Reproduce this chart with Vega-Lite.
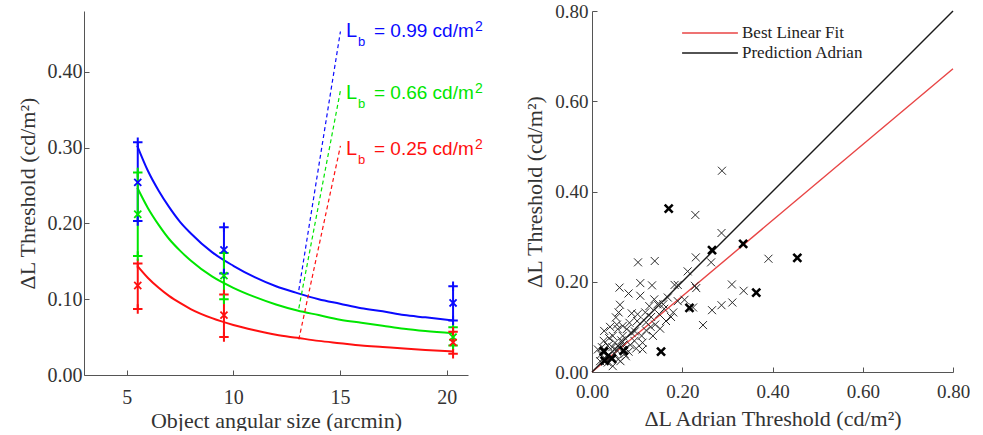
{
  "$schema": "https://vega.github.io/schema/vega-lite/v6.json",
  "autosize": {"type": "pad"},
  "padding": {"left": 16, "top": 2, "right": 0, "bottom": 0},
  "background": "white",
  "spacing": 124,
  "bounds": "flush",
  "config": {
    "view": {"stroke": null},
    "axis": {
      "grid": false,
      "labelFlush": false,
      "labelOverlap": false,
      "domainColor": "#555555",
      "domainWidth": 1,
      "tickColor": "#555555",
      "tickSize": -5,
      "labelFont": "Liberation Serif",
      "titleFont": "Liberation Serif",
      "labelColor": "#333333",
      "titleColor": "#333333",
      "labelFontSize": 20,
      "titleFontSize": 22,
      "titleFontWeight": "normal"
    }
  },
  "resolve": {"scale": {"color": "independent"}, "legend": {"color": "independent"}},
  "datasets": {
    "fits": [
      {"Lb": "0.99", "size": 5.5, "thr": 0.302}, {"Lb": "0.99", "size": 6, "thr": 0.269}, {"Lb": "0.99", "size": 6.5, "thr": 0.243},
      {"Lb": "0.99", "size": 7, "thr": 0.221}, {"Lb": "0.99", "size": 7.5, "thr": 0.202}, {"Lb": "0.99", "size": 8, "thr": 0.187},
      {"Lb": "0.99", "size": 9, "thr": 0.162}, {"Lb": "0.99", "size": 10, "thr": 0.144}, {"Lb": "0.99", "size": 11, "thr": 0.129},
      {"Lb": "0.99", "size": 12, "thr": 0.117}, {"Lb": "0.99", "size": 13, "thr": 0.108}, {"Lb": "0.99", "size": 14, "thr": 0.100},
      {"Lb": "0.99", "size": 15, "thr": 0.094}, {"Lb": "0.99", "size": 16, "thr": 0.088}, {"Lb": "0.99", "size": 17, "thr": 0.084},
      {"Lb": "0.99", "size": 18, "thr": 0.079}, {"Lb": "0.99", "size": 19, "thr": 0.076}, {"Lb": "0.99", "size": 20.3, "thr": 0.072},
      {"Lb": "0.66", "size": 5.5, "thr": 0.247}, {"Lb": "0.66", "size": 6, "thr": 0.220}, {"Lb": "0.66", "size": 6.5, "thr": 0.198},
      {"Lb": "0.66", "size": 7, "thr": 0.179}, {"Lb": "0.66", "size": 7.5, "thr": 0.164}, {"Lb": "0.66", "size": 8, "thr": 0.151},
      {"Lb": "0.66", "size": 9, "thr": 0.130}, {"Lb": "0.66", "size": 10, "thr": 0.115}, {"Lb": "0.66", "size": 11, "thr": 0.103},
      {"Lb": "0.66", "size": 12, "thr": 0.093}, {"Lb": "0.66", "size": 13, "thr": 0.085}, {"Lb": "0.66", "size": 14, "thr": 0.079},
      {"Lb": "0.66", "size": 15, "thr": 0.073}, {"Lb": "0.66", "size": 16, "thr": 0.069}, {"Lb": "0.66", "size": 17, "thr": 0.065},
      {"Lb": "0.66", "size": 18, "thr": 0.061}, {"Lb": "0.66", "size": 19, "thr": 0.058}, {"Lb": "0.66", "size": 20.3, "thr": 0.055},
      {"Lb": "0.25", "size": 5.5, "thr": 0.144}, {"Lb": "0.25", "size": 6, "thr": 0.128}, {"Lb": "0.25", "size": 6.5, "thr": 0.115},
      {"Lb": "0.25", "size": 7, "thr": 0.104}, {"Lb": "0.25", "size": 7.5, "thr": 0.095}, {"Lb": "0.25", "size": 8, "thr": 0.087},
      {"Lb": "0.25", "size": 9, "thr": 0.075}, {"Lb": "0.25", "size": 10, "thr": 0.066}, {"Lb": "0.25", "size": 11, "thr": 0.059},
      {"Lb": "0.25", "size": 12, "thr": 0.053}, {"Lb": "0.25", "size": 13, "thr": 0.049}, {"Lb": "0.25", "size": 14, "thr": 0.045},
      {"Lb": "0.25", "size": 15, "thr": 0.042}, {"Lb": "0.25", "size": 16, "thr": 0.039}, {"Lb": "0.25", "size": 17, "thr": 0.037},
      {"Lb": "0.25", "size": 18, "thr": 0.035}, {"Lb": "0.25", "size": 19, "thr": 0.033}, {"Lb": "0.25", "size": 20.3, "thr": 0.031}
    ],
    "measured": [
      {"Lb": "0.99", "size": 5.52, "lo": 0.203, "mean": 0.254, "hi": 0.307},
      {"Lb": "0.99", "size": 9.56, "lo": 0.134, "mean": 0.165, "hi": 0.195},
      {"Lb": "0.99", "size": 20.3, "lo": 0.072, "mean": 0.095, "hi": 0.117},
      {"Lb": "0.66", "size": 5.52, "lo": 0.157, "mean": 0.212, "hi": 0.267},
      {"Lb": "0.66", "size": 9.56, "lo": 0.100, "mean": 0.131, "hi": 0.161},
      {"Lb": "0.66", "size": 20.3, "lo": 0.039, "mean": 0.050, "hi": 0.063},
      {"Lb": "0.25", "size": 5.52, "lo": 0.087, "mean": 0.118, "hi": 0.147},
      {"Lb": "0.25", "size": 9.56, "lo": 0.050, "mean": 0.079, "hi": 0.106},
      {"Lb": "0.25", "size": 20.3, "lo": 0.028, "mean": 0.043, "hi": 0.057}
    ],
    "leaders": [
      {"Lb": "0.99", "x1": 13.07, "y1": 0.112, "x2": 15.02, "y2": 0.453, "unit": "= 0.99 cd/m", "lx": 15.28, "ly": 0.446},
      {"Lb": "0.66", "x1": 13.07, "y1": 0.088, "x2": 15.02, "y2": 0.375, "unit": "= 0.66 cd/m", "lx": 15.28, "ly": 0.364},
      {"Lb": "0.25", "x1": 13.07, "y1": 0.047, "x2": 15.02, "y2": 0.302, "unit": "= 0.25 cd/m", "lx": 15.28, "ly": 0.2895}
    ],
    "lines": [
      {"series": "Best Linear Fit", "adrian": 0, "measured": 0},
      {"series": "Best Linear Fit", "adrian": 0.8, "measured": 0.672},
      {"series": "Prediction Adrian", "adrian": 0, "measured": 0},
      {"series": "Prediction Adrian", "adrian": 0.8, "measured": 0.8}
    ],
    "scatter": [
      {"adrian": 0.288, "measured": 0.446, "set": "A"}, {"adrian": 0.229, "measured": 0.348, "set": "A"},
      {"adrian": 0.287, "measured": 0.308, "set": "A"}, {"adrian": 0.230, "measured": 0.254, "set": "A"},
      {"adrian": 0.102, "measured": 0.243, "set": "A"}, {"adrian": 0.139, "measured": 0.246, "set": "A"},
      {"adrian": 0.264, "measured": 0.243, "set": "A"}, {"adrian": 0.391, "measured": 0.251, "set": "A"},
      {"adrian": 0.212, "measured": 0.223, "set": "A"}, {"adrian": 0.228, "measured": 0.191, "set": "A"},
      {"adrian": 0.183, "measured": 0.193, "set": "A"}, {"adrian": 0.107, "measured": 0.197, "set": "A"},
      {"adrian": 0.133, "measured": 0.192, "set": "A"}, {"adrian": 0.061, "measured": 0.187, "set": "A"},
      {"adrian": 0.081, "measured": 0.174, "set": "A"}, {"adrian": 0.107, "measured": 0.169, "set": "A"},
      {"adrian": 0.310, "measured": 0.194, "set": "A"}, {"adrian": 0.336, "measured": 0.180, "set": "A"},
      {"adrian": 0.311, "measured": 0.154, "set": "A"}, {"adrian": 0.287, "measured": 0.148, "set": "A"},
      {"adrian": 0.266, "measured": 0.137, "set": "A"}, {"adrian": 0.246, "measured": 0.104, "set": "A"},
      {"adrian": 0.231, "measured": 0.186, "set": "A"}, {"adrian": 0.190, "measured": 0.157, "set": "A"},
      {"adrian": 0.168, "measured": 0.165, "set": "A"}, {"adrian": 0.158, "measured": 0.150, "set": "A"},
      {"adrian": 0.138, "measured": 0.161, "set": "A"}, {"adrian": 0.127, "measured": 0.146, "set": "A"},
      {"adrian": 0.118, "measured": 0.132, "set": "A"}, {"adrian": 0.101, "measured": 0.128, "set": "A"},
      {"adrian": 0.062, "measured": 0.149, "set": "A"}, {"adrian": 0.059, "measured": 0.132, "set": "A"},
      {"adrian": 0.083, "measured": 0.109, "set": "A"}, {"adrian": 0.100, "measured": 0.113, "set": "A"},
      {"adrian": 0.131, "measured": 0.122, "set": "A"}, {"adrian": 0.149, "measured": 0.128, "set": "A"},
      {"adrian": 0.175, "measured": 0.122, "set": "A"}, {"adrian": 0.164, "measured": 0.113, "set": "A"},
      {"adrian": 0.180, "measured": 0.132, "set": "A"}, {"adrian": 0.151, "measured": 0.096, "set": "A"},
      {"adrian": 0.135, "measured": 0.080, "set": "A"}, {"adrian": 0.112, "measured": 0.065, "set": "A"},
      {"adrian": 0.094, "measured": 0.069, "set": "A"}, {"adrian": 0.098, "measured": 0.052, "set": "A"},
      {"adrian": 0.112, "measured": 0.050, "set": "A"}, {"adrian": 0.077, "measured": 0.095, "set": "A"},
      {"adrian": 0.057, "measured": 0.095, "set": "A"}, {"adrian": 0.046, "measured": 0.080, "set": "A"},
      {"adrian": 0.068, "measured": 0.080, "set": "A"}, {"adrian": 0.027, "measured": 0.091, "set": "A"},
      {"adrian": 0.026, "measured": 0.069, "set": "A"}, {"adrian": 0.035, "measured": 0.058, "set": "A"},
      {"adrian": 0.051, "measured": 0.065, "set": "A"}, {"adrian": 0.070, "measured": 0.061, "set": "A"},
      {"adrian": 0.081, "measured": 0.045, "set": "A"}, {"adrian": 0.055, "measured": 0.048, "set": "A"},
      {"adrian": 0.013, "measured": 0.050, "set": "A"}, {"adrian": 0.020, "measured": 0.039, "set": "A"},
      {"adrian": 0.042, "measured": 0.033, "set": "A"}, {"adrian": 0.035, "measured": 0.021, "set": "A"},
      {"adrian": 0.046, "measured": 0.013, "set": "A"}, {"adrian": 0.018, "measured": 0.024, "set": "A"},
      {"adrian": 0.063, "measured": 0.024, "set": "A"}, {"adrian": 0.224, "measured": 0.143, "set": "A"},
      {"adrian": 0.053, "measured": 0.121, "set": "A"}, {"adrian": 0.068, "measured": 0.102, "set": "A"},
      {"adrian": 0.088, "measured": 0.086, "set": "A"}, {"adrian": 0.120, "measured": 0.092, "set": "A"},
      {"adrian": 0.040, "measured": 0.100, "set": "A"}, {"adrian": 0.030, "measured": 0.045, "set": "A"},
      {"adrian": 0.050, "measured": 0.040, "set": "A"}, {"adrian": 0.060, "measured": 0.055, "set": "A"},
      {"adrian": 0.075, "measured": 0.035, "set": "A"}, {"adrian": 0.033, "measured": 0.035, "set": "A"},
      {"adrian": 0.022, "measured": 0.055, "set": "A"}, {"adrian": 0.065, "measured": 0.070, "set": "A"},
      {"adrian": 0.085, "measured": 0.060, "set": "A"}, {"adrian": 0.045, "measured": 0.055, "set": "A"},
      {"adrian": 0.140, "measured": 0.105, "set": "A"}, {"adrian": 0.160, "measured": 0.140, "set": "A"},
      {"adrian": 0.205, "measured": 0.160, "set": "A"}, {"adrian": 0.120, "measured": 0.110, "set": "A"},
      {"adrian": 0.095, "measured": 0.090, "set": "A"}, {"adrian": 0.072, "measured": 0.040, "set": "A"},
      {"adrian": 0.088, "measured": 0.130, "set": "A"}, {"adrian": 0.055, "measured": 0.105, "set": "A"},
      {"adrian": 0.038, "measured": 0.075, "set": "A"}, {"adrian": 0.026, "measured": 0.030, "set": "A"},
      {"adrian": 0.058, "measured": 0.028, "set": "A"}, {"adrian": 0.110, "measured": 0.080, "set": "A"},
      {"adrian": 0.074, "measured": 0.052, "set": "A"}, {"adrian": 0.190, "measured": 0.193, "set": "A"},
      {"adrian": 0.130, "measured": 0.100, "set": "A"}, {"adrian": 0.145, "measured": 0.150, "set": "A"},
      {"adrian": 0.170, "measured": 0.362, "set": "B"}, {"adrian": 0.266, "measured": 0.270, "set": "B"},
      {"adrian": 0.335, "measured": 0.284, "set": "B"}, {"adrian": 0.455, "measured": 0.253, "set": "B"},
      {"adrian": 0.364, "measured": 0.176, "set": "B"}, {"adrian": 0.216, "measured": 0.142, "set": "B"},
      {"adrian": 0.153, "measured": 0.045, "set": "B"}, {"adrian": 0.026, "measured": 0.046, "set": "B"},
      {"adrian": 0.044, "measured": 0.030, "set": "B"}, {"adrian": 0.070, "measured": 0.047, "set": "B"},
      {"adrian": 0.028, "measured": 0.025, "set": "B"}
    ]
  },
  "hconcat": [
    {
      "width": 384,
      "height": 364,
      "layer": [
        {
          "data": {"name": "fits"},
          "mark": {"type": "line", "strokeWidth": 2, "interpolate": "monotone"},
          "encoding": {
            "x": {"field": "size", "type": "quantitative", "title": "Object angular size (arcmin)", "scale": {"domain": [3, 21], "nice": false, "zero": false},
                  "axis": {"values": [5, 10, 15, 20], "labelPadding": 17, "titlePadding": 3}},
            "y": {"field": "thr", "type": "quantitative", "title": "ΔL Threshold (cd/m²)", "scale": {"domain": [0, 0.48], "nice": false},
                  "axis": {"values": [0, 0.1, 0.2, 0.3, 0.4], "format": ".2f", "labelPadding": 7, "titlePadding": 8}},
            "color": {"field": "Lb", "type": "nominal", "scale": {"domain": ["0.99", "0.66", "0.25"], "range": ["#0a0aff", "#00e600", "#ff1010"]}, "legend": null},
            "detail": {"field": "Lb"}
          }
        },
        {
          "data": {"name": "leaders"},
          "mark": {"type": "rule", "strokeWidth": 1.2, "strokeDash": [4, 3]},
          "encoding": {
            "x": {"field": "x1", "type": "quantitative", "title": "Object angular size (arcmin)"},
            "y": {"field": "y1", "type": "quantitative", "title": "ΔL Threshold (cd/m²)"},
            "x2": {"field": "x2"},
            "y2": {"field": "y2"},
            "color": {"field": "Lb", "type": "nominal", "legend": null}
          }
        },
        {
          "data": {"name": "measured"},
          "mark": {"type": "rule", "strokeWidth": 2},
          "encoding": {
            "x": {"field": "size", "type": "quantitative", "title": "Object angular size (arcmin)"},
            "y": {"field": "lo", "type": "quantitative", "title": "ΔL Threshold (cd/m²)"},
            "y2": {"field": "hi"},
            "color": {"field": "Lb", "type": "nominal", "legend": null}
          }
        },
        {
          "data": {"name": "measured"},
          "mark": {"type": "point", "shape": "M-1,0L1,0M0,-1L0,1", "size": 90, "strokeWidth": 2, "filled": false, "opacity": 1},
          "encoding": {
            "x": {"field": "size", "type": "quantitative", "title": "Object angular size (arcmin)"},
            "y": {"field": "hi", "type": "quantitative", "title": "ΔL Threshold (cd/m²)"},
            "color": {"field": "Lb", "type": "nominal", "legend": null}
          }
        },
        {
          "data": {"name": "measured"},
          "mark": {"type": "point", "shape": "M-1,0L1,0M0,-1L0,1", "size": 90, "strokeWidth": 2, "filled": false, "opacity": 1},
          "encoding": {
            "x": {"field": "size", "type": "quantitative", "title": "Object angular size (arcmin)"},
            "y": {"field": "lo", "type": "quantitative", "title": "ΔL Threshold (cd/m²)"},
            "color": {"field": "Lb", "type": "nominal", "legend": null}
          }
        },
        {
          "data": {"name": "measured"},
          "mark": {"type": "point", "shape": "M-1,-1L1,1M-1,1L1,-1", "size": 50, "strokeWidth": 1.8, "filled": false, "opacity": 1},
          "encoding": {
            "x": {"field": "size", "type": "quantitative", "title": "Object angular size (arcmin)"},
            "y": {"field": "mean", "type": "quantitative", "title": "ΔL Threshold (cd/m²)"},
            "color": {"field": "Lb", "type": "nominal", "legend": null}
          }
        },
        {
          "data": {"name": "leaders"},
          "mark": {"type": "text", "font": "Liberation Sans", "fontSize": 20, "align": "left", "baseline": "alphabetic"},
          "encoding": {
            "x": {"field": "lx", "type": "quantitative", "title": "Object angular size (arcmin)"},
            "y": {"field": "ly", "type": "quantitative", "title": "ΔL Threshold (cd/m²)"},
            "text": {"value": "L"},
            "color": {"field": "Lb", "type": "nominal", "legend": null}
          }
        },
        {
          "data": {"name": "leaders"},
          "mark": {"type": "text", "font": "Liberation Sans", "fontSize": 13, "align": "left", "baseline": "alphabetic", "dx": 12, "dy": 9},
          "encoding": {
            "x": {"field": "lx", "type": "quantitative", "title": "Object angular size (arcmin)"},
            "y": {"field": "ly", "type": "quantitative", "title": "ΔL Threshold (cd/m²)"},
            "text": {"value": "b"},
            "color": {"field": "Lb", "type": "nominal", "legend": null}
          }
        },
        {
          "data": {"name": "leaders"},
          "mark": {"type": "text", "font": "Liberation Sans", "fontSize": 19, "align": "left", "baseline": "alphabetic", "dx": 28},
          "encoding": {
            "x": {"field": "lx", "type": "quantitative", "title": "Object angular size (arcmin)"},
            "y": {"field": "ly", "type": "quantitative", "title": "ΔL Threshold (cd/m²)"},
            "text": {"field": "unit"},
            "color": {"field": "Lb", "type": "nominal", "legend": null}
          }
        },
        {
          "data": {"name": "leaders"},
          "mark": {"type": "text", "font": "Liberation Sans", "fontSize": 14, "align": "left", "baseline": "alphabetic", "dx": 129, "dy": -6},
          "encoding": {
            "x": {"field": "lx", "type": "quantitative", "title": "Object angular size (arcmin)"},
            "y": {"field": "ly", "type": "quantitative", "title": "ΔL Threshold (cd/m²)"},
            "text": {"value": "2"},
            "color": {"field": "Lb", "type": "nominal", "legend": null}
          }
        }
      ]
    },
    {
      "width": 361,
      "height": 361,
      "layer": [
        {
          "data": {"name": "lines"},
          "mark": {"type": "line", "strokeWidth": 1.4},
          "encoding": {
            "x": {"field": "adrian", "type": "quantitative", "title": "ΔL Adrian Threshold (cd/m²)", "scale": {"domain": [0, 0.8], "nice": false},
                  "axis": {"values": [0, 0.2, 0.4, 0.6, 0.8], "format": ".2f", "labelFontSize": 19, "labelPadding": 15, "titlePadding": 7}},
            "y": {"field": "measured", "type": "quantitative", "title": "ΔL Threshold (cd/m²)", "scale": {"domain": [0, 0.8], "nice": false},
                  "axis": {"values": [0, 0.2, 0.4, 0.6, 0.8], "format": ".2f", "labelFontSize": 19, "labelPadding": 9, "titlePadding": 8}},
            "color": {"field": "series", "type": "nominal",
                      "scale": {"domain": ["Best Linear Fit", "Prediction Adrian"], "range": ["#e84545", "#1a1a1a"]},
                      "legend": {"orient": "none", "legendX": 108, "legendY": 12, "title": null, "symbolType": "M-3.1,0L3.1,0", "symbolSize": 324,
                                 "symbolStrokeWidth": 1.6, "labelFont": "Liberation Serif", "labelFontSize": 17, "labelColor": "#222222",
                                 "labelOffset": 22, "rowPadding": 2}}
          }
        },
        {
          "data": {"name": "scatter"},
          "transform": [{"filter": "datum.set === 'A'"}],
          "mark": {"type": "point", "shape": "M-1,-1L1,1M-1,1L1,-1", "size": 64, "strokeWidth": 1, "filled": false, "color": "#2a2a2a", "opacity": 1},
          "encoding": {
            "x": {"field": "adrian", "type": "quantitative", "title": "ΔL Adrian Threshold (cd/m²)"},
            "y": {"field": "measured", "type": "quantitative", "title": "ΔL Threshold (cd/m²)"}
          }
        },
        {
          "data": {"name": "scatter"},
          "transform": [{"filter": "datum.set === 'B'"}],
          "mark": {"type": "point", "shape": "M-1,-1L1,1M-1,1L1,-1", "size": 64, "strokeWidth": 2.6, "filled": false, "color": "#000000", "opacity": 1},
          "encoding": {
            "x": {"field": "adrian", "type": "quantitative", "title": "ΔL Adrian Threshold (cd/m²)"},
            "y": {"field": "measured", "type": "quantitative", "title": "ΔL Threshold (cd/m²)"}
          }
        }
      ]
    }
  ]
}
